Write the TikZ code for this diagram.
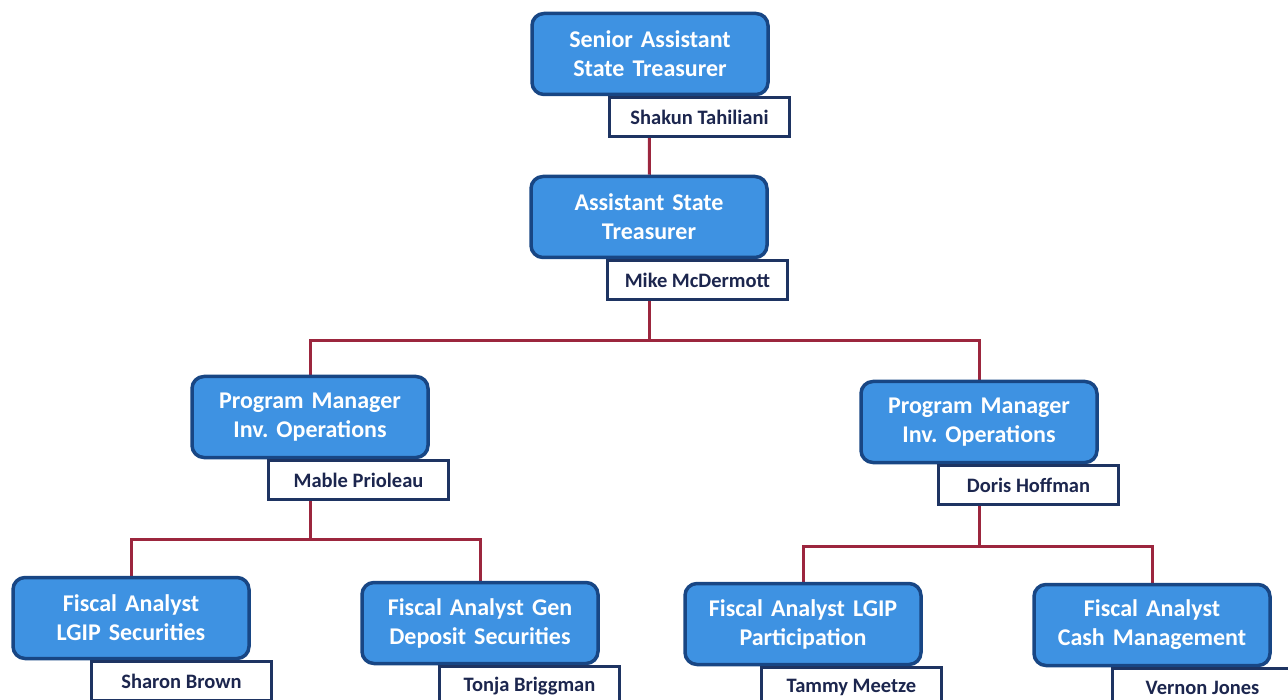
\documentclass[tikz,border=0pt]{standalone}
\usepackage{fontspec}
\setmainfont{Carlito}
\usetikzlibrary{positioning,backgrounds}
\definecolor{postblue}{RGB}{62,146,226}
\definecolor{postedge}{RGB}{24,70,132}
\definecolor{personedge}{RGB}{30,52,98}
\definecolor{persontext}{RGB}{28,38,78}
\definecolor{linkred}{RGB}{156,38,62}
\frenchspacing
\begin{document}
\begin{tikzpicture}[
		x=1pt, y=-1pt,
		post/.style={draw=postedge, line width=3.5pt, fill=postblue, rounded corners=12pt, minimum width=236pt, minimum height=81pt, text width=226pt, align=center, text=white, font=\bfseries\fontsize{24}{29}\selectfont},
		person/.style={draw=personedge, line width=2.5pt, fill=white, minimum width=180pt, minimum height=39pt, text=persontext, font=\bfseries\fontsize{20.5}{22}\selectfont},
		link/.style={draw=linkred, line width=3pt},
	]
		\clip (0,0) rectangle (1288,700);

		\node[post] (sst) at (650,54) {Senior Assistant\\State Treasurer};
		\node[person, below left=0pt and -21pt of sst.south east] (sstname) {Shakun Tahiliani};

		\node[post] (ast) at (649,217) {Assistant State\\Treasurer};
		\node[person, below left=0pt and -20pt of ast.south east] (astname) {Mike McDermott};

		\node[post] (pml) at (310,417) {Program Manager\\Inv. Operations};
		\node[person, below left=0pt and -20pt of pml.south east] (pmlname) {Mable Prioleau};
		\node[post] (pmr) at (979,422) {Program Manager\\Inv. Operations};
		\node[person, below left=0pt and -21pt of pmr.south east] (pmrname) {Doris Hoffman};

		\node[post] (fals) at (131,618) {Fiscal Analyst\\LGIP Securities};
		\node[person, below left=0pt and -22pt of fals.south east] (falsname) {Sharon Brown};
		\node[post] (fads) at (480,623) {Fiscal Analyst Gen\\Deposit Securities};
		\node[person, below left=0pt and -21pt of fads.south east] (fadsname) {Tonja Briggman};
		\node[post] (falp) at (803,624) {Fiscal Analyst LGIP\\Participation};
		\node[person, below left=0pt and -20pt of falp.south east] (falpname) {Tammy Meetze};
		\node[post] (facm) at (1152,625) {Fiscal Analyst\\Cash Management};
		\node[person, below left=0pt and -22pt of facm.south east] (facmname) {Vernon Jones};

		\coordinate (bustop) at (0,341);
		\coordinate (busleft) at (0,539);
		\coordinate (busright) at (0,546);

		\begin{scope}[on background layer]
			\draw[link] (sst) -- (ast);
			\draw[link] (ast) -- (ast |- bustop) -| (pml);
			\draw[link] (ast |- bustop) -| (pmr);
			\draw[link] (pml) -- (pml |- busleft) -| (fals);
			\draw[link] (pml |- busleft) -| (fads);
			\draw[link] (pmr) -- (pmr |- busright) -| (falp);
			\draw[link] (pmr |- busright) -| (facm);
		\end{scope}
	\end{tikzpicture}
\end{document}
